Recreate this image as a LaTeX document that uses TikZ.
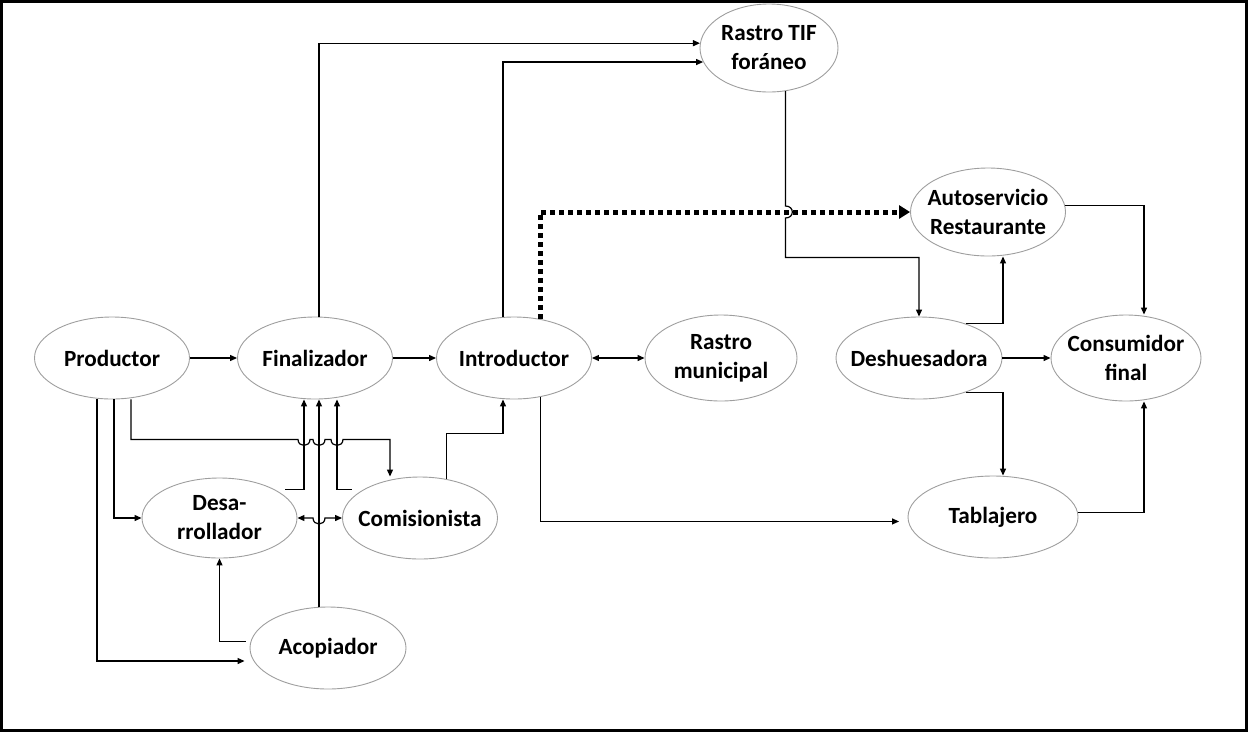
\documentclass[tikz,border=0pt]{standalone}
\usepackage{fontspec}
\setmainfont{Carlito}
\usetikzlibrary{shapes.geometric,arrows.meta,calc}
\begin{document}
\begin{tikzpicture}[x=1pt,y=-1pt,
  actor/.style={ellipse,draw=black!38,line width=0.9pt,minimum width=155pt,
    minimum height=82pt,inner xsep=-30pt,inner ysep=-10pt,align=center,
    font=\fontsize{23.2}{29}\selectfont\bfseries},
  link/.style={line width=1.2pt,-{Triangle[length=7pt,width=6pt]}},
  link2/.style={line width=1.2pt,{Triangle[length=7pt,width=6pt]}-{Triangle[length=7pt,width=6pt]}},
  dotlink/.style={line width=5pt,dash pattern=on 5pt off 4pt,
    -{Triangle[length=11pt,width=13pt]}}]

\useasboundingbox (0,0) rectangle (1248,732);
\draw[line width=3pt] (1.5,1.5) rectangle (1246.5,730.5);

% actors of the chain
\node[actor] (prod) at (112,358) {Productor};
\node[actor] (fin) at (315,358) {Finalizador};
\node[actor] (intro) at (514,358) {Introductor};
\node[actor,minimum width=152pt,minimum height=86pt] (rmun) at (721,358) {Rastro\\municipal};
\node[actor,minimum width=166pt] (desh) at (919,358) {Deshuesadora};
\node[actor,minimum width=150pt,minimum height=86pt] (cons) at (1126,358) {Consumidor\\final};
\node[actor,minimum width=138pt,minimum height=88pt] (tif) at (769,48) {Rastro TIF\\foráneo};
\node[actor,minimum height=88pt] (auto) at (988,212) {Autoservicio\\Restaurante};
\node[actor,minimum width=170pt] (tab) at (993,517) {Tablajero};
\node[actor,minimum height=80pt] (desa) at (219.5,518) {Desa-\\rrollador};
\node[actor] (com) at (420,518) {Comisionista};
\node[actor,minimum width=156pt] (acop) at (328,648) {Acopiador};

% main row
\draw[link] (prod) -- (fin);
\draw[link] (fin) -- (intro);
\draw[link2] (intro) -- (rmun);
\draw[link] (desh) -- (cons);

% to the TIF slaughterhouse
\draw[link] ($(fin.north)+(4,0)$) |- (tif.176);
\draw[link] ($(intro.north)+(-11,0)$) |- (tif.192);

% dotted supply to self-service / restaurants
\draw[dotlink] (intro.56) |- (auto.west);

% TIF to Deshuesadora, hopping over the dotted line
\draw[link] (tif.-69.5) -- ($(tif.-69.5 |- auto.west)+(0,-6)$)
  .. controls +(9,0) and +(9,0) .. ++(0,12)
  |- ($(desh.north)+(0,-59)$) -- (desh.north);

% Deshuesadora outputs
\draw[link] (desh.36) -| ($(auto.south)+(15,0)$);
\draw[link] (desh.-36) -| ($(tab.north)+(10,0)$);
\draw[link] (auto.5) -| ($(cons.north)+(18,0)$);
\draw[link] (tab.3) -| ($(cons.south)+(18,0)$);

% Introductor to Tablajero
\draw[link,shorten >=9pt] (intro.-56) |- (tab.183);

% Comisionista to Introductor
\draw[link] (com.56) |- ($(intro.south)+(-11,34)$) -- ($(intro.south)+(-11,0)$);

% Productor outputs
\draw[link] ($(prod.south)+(2,0)$) |- (desa.west);
\draw[link] ($(prod.south)+(-15,0)$) |- ($(acop.west)+(-5,13)$);

\coordinate (bus) at ($(prod.south)+(19,40)$);
\coordinate (v1) at ($(fin.south)+(-11,0)$);
\coordinate (v2) at ($(fin.south)+(4,0)$);
\coordinate (v3) at ($(fin.south)+(22,0)$);
\draw[link] ($(prod.south)+(19,0)$) -- (bus)
  -- ($(bus -| v1)+(-6,0)$) .. controls +(0,8) and +(0,8) .. ++(12,0)
  -- ($(bus -| v2)+(-6,0)$) .. controls +(0,8) and +(0,8) .. ++(12,0)
  -- ($(bus -| v3)+(-6,0)$) .. controls +(0,8) and +(0,8) .. ++(12,0)
  -| ($(com.north)+(-30,0)$);

% inputs of Finalizador from below
\draw[link] ($(desa.27)+(10,0)$) -| (v1);
\draw[link] ($(com.153)+(-12,0)$) -| (v3);
\draw[link] (acop.north -| v2) -- (v2);

% Desarrollador <-> Comisionista
\draw[link2] (desa.east) -- ($(desa.east -| v2)+(-6,0)$)
  .. controls +(0,8) and +(0,8) .. ++(12,0) -- (com.west);

% Acopiador to Desarrollador
\draw[link] ($(acop.175)+(-5,0)$) -| (desa.south);

\end{tikzpicture}
\end{document}
